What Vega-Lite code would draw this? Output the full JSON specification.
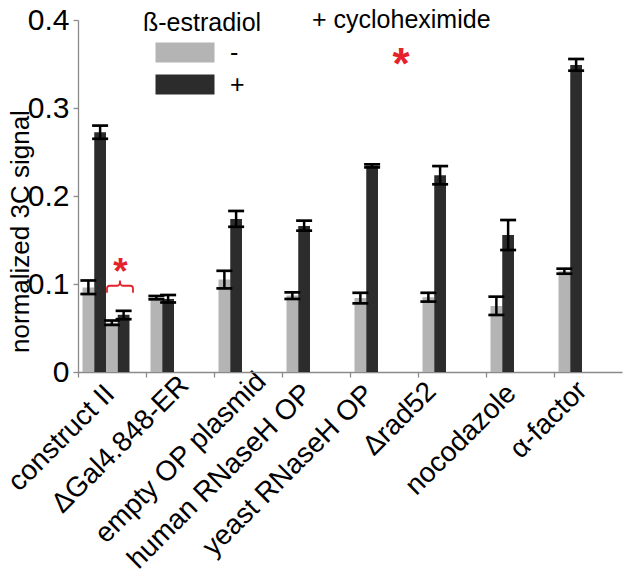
{
  "$schema": "https://vega.github.io/schema/vega-lite/v6.json",
  "width": 544,
  "height": 352,
  "autosize": {"type": "none"},
  "padding": {"left": 78, "top": 20, "right": 8, "bottom": 210},
  "background": "white",
  "config": {
    "view": {"stroke": null},
    "font": "Liberation Sans",
    "axis": {"grid": false, "domainColor": "#8a8a8a", "tickColor": "#8a8a8a", "domainWidth": 1.3, "tickWidth": 1.3, "labelColor": "black", "titleColor": "black", "labelFont": "Liberation Sans", "titleFont": "Liberation Sans"}
  },
  "data": {
    "values": [
      {"cat": "construct II", "slot": "s1", "estradiol": "-", "mean": 0.096, "lo": 0.0886, "hi": 0.104},
      {"cat": "construct II", "slot": "s2", "estradiol": "+", "mean": 0.2725, "lo": 0.265, "hi": 0.28},
      {"cat": "construct II", "slot": "s3", "estradiol": "-", "mean": 0.056, "lo": 0.0535, "hi": 0.0585},
      {"cat": "construct II", "slot": "s4", "estradiol": "+", "mean": 0.065, "lo": 0.06, "hi": 0.0695},
      {"cat": "ΔGal4.848-ER", "slot": "s1", "estradiol": "-", "mean": 0.0845, "lo": 0.0826, "hi": 0.0864},
      {"cat": "ΔGal4.848-ER", "slot": "s2", "estradiol": "+", "mean": 0.083, "lo": 0.079, "hi": 0.0875},
      {"cat": "empty OP plasmid", "slot": "s1", "estradiol": "-", "mean": 0.105, "lo": 0.095, "hi": 0.115},
      {"cat": "empty OP plasmid", "slot": "s2", "estradiol": "+", "mean": 0.174, "lo": 0.165, "hi": 0.183},
      {"cat": "human RNaseH OP", "slot": "s1", "estradiol": "-", "mean": 0.087, "lo": 0.083, "hi": 0.0905},
      {"cat": "human RNaseH OP", "slot": "s2", "estradiol": "+", "mean": 0.166, "lo": 0.1606, "hi": 0.172},
      {"cat": "yeast RNaseH OP", "slot": "s1", "estradiol": "-", "mean": 0.084, "lo": 0.078, "hi": 0.09},
      {"cat": "yeast RNaseH OP", "slot": "s2", "estradiol": "+", "mean": 0.2345, "lo": 0.2325, "hi": 0.236},
      {"cat": "Δrad52", "slot": "s1", "estradiol": "-", "mean": 0.085, "lo": 0.08, "hi": 0.09},
      {"cat": "Δrad52", "slot": "s2", "estradiol": "+", "mean": 0.2237, "lo": 0.2133, "hi": 0.234},
      {"cat": "nocodazole", "slot": "s1", "estradiol": "-", "mean": 0.075, "lo": 0.0648, "hi": 0.0856},
      {"cat": "nocodazole", "slot": "s2", "estradiol": "+", "mean": 0.1557, "lo": 0.1386, "hi": 0.1727},
      {"cat": "α-factor", "slot": "s1", "estradiol": "-", "mean": 0.1145, "lo": 0.1117, "hi": 0.1174},
      {"cat": "α-factor", "slot": "s2", "estradiol": "+", "mean": 0.349, "lo": 0.3424, "hi": 0.3557}
    ]
  },
  "layer": [
    {
      "mark": {"type": "bar"},
      "encoding": {
        "x": {
          "field": "cat", "type": "nominal", "sort": null, "title": null,
          "scale": {"domain": ["construct II", "ΔGal4.848-ER", "empty OP plasmid", "human RNaseH OP", "yeast RNaseH OP", "Δrad52", "nocodazole", "α-factor"], "paddingInner": 0, "paddingOuter": 0},
          "axis": {
            "bandPosition": 0, "labelAngle": -45, "labelAlign": "right", "labelBaseline": "top", "labelOffset": -18, "labelPadding": 2, "labelFontSize": 28, "labelLimit": 400, "labelOverlap": false, "labelFlush": false, "labelBound": false, "tickSize": 5,
            "encoding": {
              "labels": {
                "dx": {"condition": [
                  {"test": "datum.value === 'construct II'", "value": 4},
                  {"test": "datum.value === 'ΔGal4.848-ER'", "value": 15},
                  {"test": "datum.value === 'empty OP plasmid'", "value": 24},
                  {"test": "datum.value === 'yeast RNaseH OP'", "value": -5},
                  {"test": "datum.value === 'Δrad52'", "value": -7},
                  {"test": "datum.value === 'α-factor'", "value": 4}
                ], "value": 0},
                "dy": {"condition": [
                  {"test": "datum.value === 'construct II'", "value": 5},
                  {"test": "datum.value === 'ΔGal4.848-ER'", "value": 3},
                  {"test": "datum.value === 'empty OP plasmid'", "value": 7},
                  {"test": "datum.value === 'yeast RNaseH OP'", "value": -4},
                  {"test": "datum.value === 'Δrad52'", "value": -10}
                ], "value": 0}
              }
            }
          }
        },
        "xOffset": {"field": "slot", "type": "nominal", "scale": {"domain": ["s1", "s2", "s3", "s4"], "paddingInner": 0, "paddingOuter": 0.894, "align": 0.214}},
        "y": {
          "field": "mean", "type": "quantitative", "title": "normalized 3C signal",
          "scale": {"domain": [0, 0.4], "nice": false},
          "axis": {"values": [0, 0.1, 0.2, 0.3, 0.4], "format": ".1~f", "labelFontSize": 30, "labelPadding": 4, "tickSize": 5, "titleFontSize": 26, "titleFontWeight": "normal", "titleAngle": -90, "titleAlign": "center", "titleBaseline": "middle", "titleX": -58, "titleY": 211}
        },
        "color": {
          "field": "estradiol", "type": "nominal",
          "scale": {"domain": ["-", "+"], "range": ["#b4b4b4", "#2c2c2c"]},
          "legend": {"orient": "none", "legendX": 65, "legendY": -9, "title": "ß-estradiol", "titleFontSize": 25, "titleFontWeight": "normal", "titleColor": "black", "titlePadding": 4, "labelFontSize": 25, "labelColor": "black", "symbolType": "M-2.95,-1H2.95V1H-2.95Z", "symbolSize": 400, "symbolStrokeWidth": 0, "symbolOpacity": 1, "symbolOffset": 29.5, "labelOffset": 32.5, "rowPadding": 6, "padding": 0}
        }
      }
    },
    {
      "mark": {"type": "rule", "color": "black", "strokeWidth": 2.5},
      "encoding": {
        "x": {"field": "cat", "type": "nominal", "sort": null, "title": null},
        "xOffset": {"field": "slot", "type": "nominal"},
        "y": {"field": "lo", "type": "quantitative", "title": "normalized 3C signal"},
        "y2": {"field": "hi"}
      }
    },
    {
      "mark": {"type": "tick", "orient": "horizontal", "color": "black", "size": 16, "thickness": 2.7, "opacity": 1},
      "encoding": {
        "x": {"field": "cat", "type": "nominal", "sort": null, "title": null},
        "xOffset": {"field": "slot", "type": "nominal"},
        "y": {"field": "lo", "type": "quantitative", "title": "normalized 3C signal"}
      }
    },
    {
      "mark": {"type": "tick", "orient": "horizontal", "color": "black", "size": 16, "thickness": 2.7, "opacity": 1},
      "encoding": {
        "x": {"field": "cat", "type": "nominal", "sort": null, "title": null},
        "xOffset": {"field": "slot", "type": "nominal"},
        "y": {"field": "hi", "type": "quantitative", "title": "normalized 3C signal"}
      }
    },
    {
      "data": {"values": [{}]},
      "mark": {"type": "text", "text": "+ cycloheximide", "align": "left", "baseline": "alphabetic", "dx": -4, "fontSize": 25, "color": "black"},
      "encoding": {
        "x": {"datum": "human RNaseH OP", "type": "nominal"},
        "y": {"datum": 0.391, "type": "quantitative"}
      }
    },
    {
      "data": {"values": [{}]},
      "mark": {"type": "text", "text": "*", "align": "center", "baseline": "alphabetic", "dx": 17, "fontSize": 44, "fontWeight": "bold", "color": "#e4222b"},
      "encoding": {
        "x": {"datum": "yeast RNaseH OP", "type": "nominal"},
        "y": {"datum": 0.333, "type": "quantitative"}
      }
    },
    {
      "data": {"values": [{}]},
      "mark": {"type": "text", "text": "*", "align": "center", "baseline": "alphabetic", "dx": 8.5, "fontSize": 37, "fontWeight": "bold", "color": "#e4222b"},
      "encoding": {
        "x": {"datum": "construct II", "type": "nominal"},
        "y": {"datum": 0.1003, "type": "quantitative"}
      }
    },
    {
      "data": {"values": [{}]},
      "mark": {"type": "point", "shape": "M-0.385,0.54L-0.385,0.2Q-0.385,0 -0.18,0L0.42,0Q0.615,0 0.615,-0.4Q0.615,0 0.81,0L1.41,0Q1.615,0 1.615,0.2L1.615,0.54", "size": 676, "filled": false, "stroke": "#e4222b", "strokeWidth": 1.8, "opacity": 1},
      "encoding": {
        "x": {"datum": "construct II", "type": "nominal"},
        "y": {"datum": 0.098, "type": "quantitative"}
      }
    }
  ]
}
